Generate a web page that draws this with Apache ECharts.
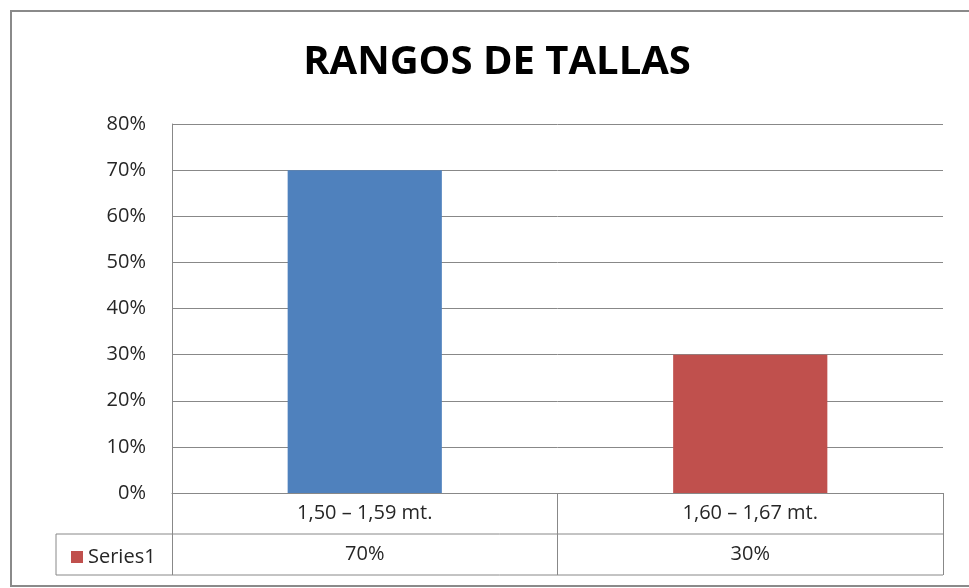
<!DOCTYPE html>
<html>
<head>
<meta charset="utf-8">
<script src="https://cdn.jsdelivr.net/npm/echarts@6/dist/echarts.min.js"></script>
<style>
  html, body { margin: 0; padding: 0; background: #fff; }
  #chart { width: 969px; height: 588px; }
</style>
</head>
<body>
<div id="chart"></div>
<script>
var categories = ["1,50 – 1,59 mt.", "1,60 – 1,67 mt."];
var values = [70, 30];
var barColors = ["#4F81BD", "#C0504D"];
var seriesName = "Series1";

var FONT = "Open Sans";
var gridLine = "#888888";
// plot area in pixels
var G = { left: 172, right: 943, top: 124, bottom: 493 };
var rowH = 41;

var chart = echarts.init(document.getElementById("chart"));

var option = {
  animation: false,
  title: {
    text: "RANGOS DE TALLAS",
    left: 492,
    textAlign: "center",
    top: 38,
    textStyle: { fontFamily: FONT, fontWeight: "bold", fontSize: 40, color: "#000" }
  },
  legend: {
    data: [{ name: seriesName, itemStyle: { color: barColors[1] } }],
    left: 66,
    top: G.bottom + rowH + 8,
    icon: "rect",
    itemWidth: 12,
    itemHeight: 12,
    itemGap: 4,
    textStyle: { fontFamily: FONT, fontSize: 20, color: "#262626" }
  },
  grid: {
    left: G.left,
    right: 969 - G.right,
    top: G.top,
    bottom: 588 - G.bottom,
    containLabel: false
  },
  xAxis: {
    type: "category",
    data: categories,
    axisLine: { show: true, lineStyle: { color: gridLine } },
    axisTick: { show: true, length: rowH * 2, lineStyle: { color: gridLine } },
    axisLabel: {
      interval: 0,
      margin: 0,
      lineHeight: rowH,
      fontFamily: FONT,
      fontSize: 20,
      color: "#262626",
      formatter: function (val, idx) {
        return val + "\n" + values[idx] + "%";
      }
    }
  },
  yAxis: {
    type: "value",
    min: 0,
    max: 80,
    interval: 10,
    axisLine: { show: true, lineStyle: { color: gridLine } },
    axisTick: { show: false },
    splitLine: { lineStyle: { color: gridLine } },
    axisLabel: {
      margin: 26,
      fontFamily: FONT,
      fontSize: 20,
      color: "#262626",
      formatter: "{value}%"
    }
  },
  series: [{
    name: seriesName,
    type: "bar",
    barWidth: "40%",
    data: values.map(function (v, i) {
      return { value: v, itemStyle: { color: barColors[i] } };
    })
  }],
  graphic: [
    // outer chart border
    { type: "rect", shape: { x: 11, y: 11, width: 970, height: 575 },
      style: { fill: "none", stroke: "#8a8a8a", lineWidth: 2 } },
    // data table lines
    { type: "line", shape: { x1: 56, y1: G.bottom + rowH, x2: G.right, y2: G.bottom + rowH },
      style: { stroke: gridLine, lineWidth: 1 } },
    { type: "line", shape: { x1: 56, y1: G.bottom + rowH * 2, x2: G.right, y2: G.bottom + rowH * 2 },
      style: { stroke: gridLine, lineWidth: 1 } },
    { type: "line", shape: { x1: 56, y1: G.bottom + rowH, x2: 56, y2: G.bottom + rowH * 2 },
      style: { stroke: gridLine, lineWidth: 1 } }
  ]
};

chart.setOption(option);
</script>
</body>
</html>
